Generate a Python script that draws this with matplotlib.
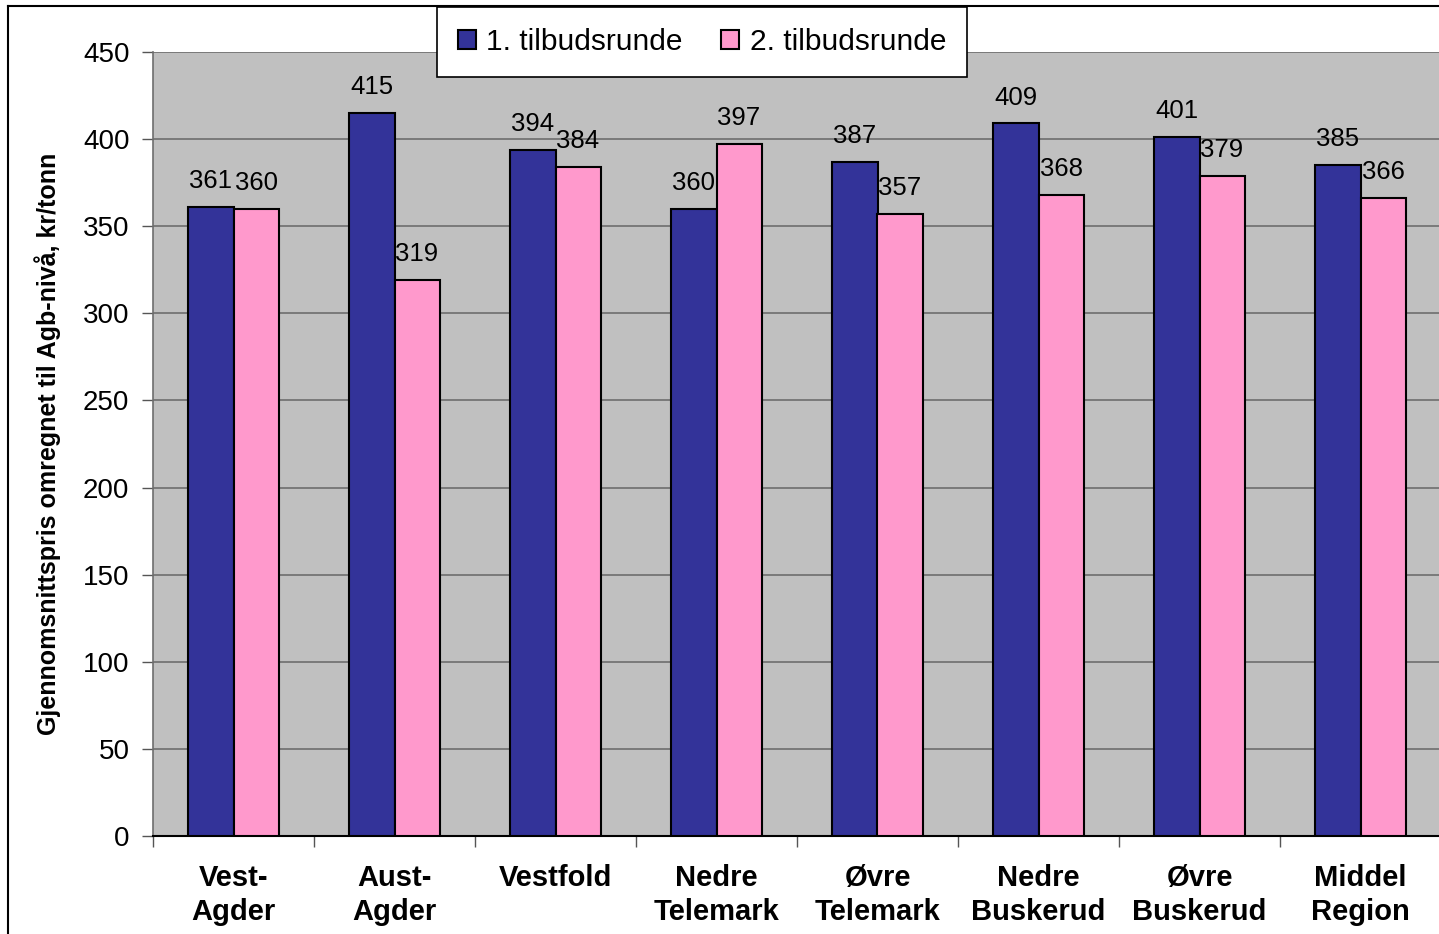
import matplotlib
matplotlib.use("Agg")
import matplotlib.pyplot as plt
import numpy as np
from matplotlib.lines import Line2D

categories = ["Vest-\nAgder", "Aust-\nAgder", "Vestfold", "Nedre\nTelemark", "Øvre\nTelemark",
              "Nedre\nBuskerud", "Øvre\nBuskerud", "Middel\nRegion"]
series1_name = "1. tilbudsrunde"
series2_name = "2. tilbudsrunde"
series1 = [361, 415, 394, 360, 387, 409, 401, 385]
series2 = [360, 319, 384, 397, 357, 368, 379, 366]
yticks = [0, 50, 100, 150, 200, 250, 300, 350, 400, 450]
ylabel = "Gjennomsnittspris omregnet til Agb-nivå, kr/tonn"

plt.rcParams['font.family'] = ['Liberation Sans', 'DejaVu Sans']

W, H = 1439, 934
fig = plt.figure(figsize=(W / 100, H / 100), dpi=100)
fig.patch.set_facecolor("white")

left, right, top, bottom = 153, 1441, 52, 836
ax = fig.add_axes([left / W, 1 - bottom / H, (right - left) / W, (bottom - top) / H])
ax.set_facecolor("#C0C0C0")

x = np.arange(len(categories))
bw = 0.28
b1 = ax.bar(x - bw / 2, series1, bw, color="#333399", edgecolor="black", linewidth=1.5,
            label=series1_name, zorder=3)
b2 = ax.bar(x + bw / 2, series2, bw, color="#FF99CC", edgecolor="black", linewidth=1.5,
            label=series2_name, zorder=3)

for bars, vals in ((b1, series1), (b2, series2)):
    for r, v in zip(bars, vals):
        ax.annotate(str(v), (r.get_x() + r.get_width() / 2, r.get_height()),
                    xytext=(0, 10), textcoords="offset points", ha="center", va="bottom",
                    fontsize=18.5, color="black", zorder=4)

ax.set_xlim(-0.5, len(categories) - 0.5)
ax.set_ylim(0, 450)
ax.set_yticks(yticks)
ax.set_yticklabels([str(t) for t in yticks], fontsize=20)
ax.yaxis.grid(True, color="#6E6E6E", linewidth=1.2, zorder=1)
ax.set_axisbelow(True)

ax.set_xticks(x)
ax.set_xticklabels(categories, fontsize=21, fontweight="bold", linespacing=1.3)
ax.tick_params(axis="x", length=0, pad=20)
ax.set_xticks(np.arange(len(categories) + 1) - 0.5, minor=True)
ax.tick_params(axis="x", which="minor", length=8, width=1, color="#555555", direction="out")
ax.tick_params(axis="y", length=8, width=1, color="#555555", direction="out", pad=9)

for s in ["top", "right"]:
    ax.spines[s].set_visible(False)
ax.spines["left"].set_color("#6E6E6E")
ax.spines["left"].set_linewidth(1.2)
ax.spines["bottom"].set_color("black")
ax.spines["bottom"].set_linewidth(1.5)

fig.text(48 / W, 1 - 444 / H, ylabel, rotation=90, ha="center", va="center",
         fontsize=18, fontweight="bold")

leg = fig.legend(loc="center", bbox_to_anchor=(702 / W, 1 - 42 / H), ncol=2, frameon=True,
                 fontsize=21.5, handlelength=0.6, handleheight=0.6, handletextpad=0.35,
                 columnspacing=1.3, borderpad=0.7, fancybox=False)
leg.get_frame().set_edgecolor("black")
leg.get_frame().set_linewidth(1.2)
leg.get_frame().set_facecolor("white")
leg.get_frame().set_alpha(1)

# figure border (left and top edges visible)
fig.add_artist(Line2D([8 / W, 8 / W], [0, 1 - 6 / H], transform=fig.transFigure, color="black", linewidth=1.5))
fig.add_artist(Line2D([8 / W, 1], [1 - 6 / H, 1 - 6 / H], transform=fig.transFigure, color="black", linewidth=1.5))

fig.savefig("out.png", dpi=100)
